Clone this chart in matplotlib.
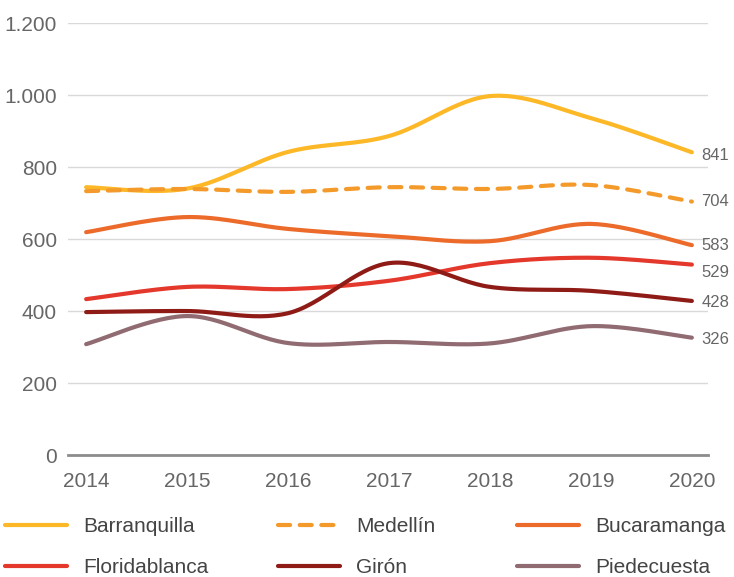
import numpy as np
import matplotlib
matplotlib.use("Agg")
import matplotlib.pyplot as plt
from matplotlib.lines import Line2D

years = [2014, 2015, 2016, 2017, 2018, 2019, 2020]
barranquilla = [744, 740, 842, 886, 997, 936, 841]
medellin = [733, 739, 731, 744, 739, 750, 704]
bucaramanga = [619, 661, 628, 608, 594, 642, 583]
floridablanca = [433, 467, 461, 484, 533, 548, 529]
giron = [397, 400, 394, 533, 467, 456, 428]
piedecuesta = [308, 386, 311, 314, 310, 358, 326]

names = ["Barranquilla", "Medellín", "Bucaramanga", "Floridablanca", "Girón", "Piedecuesta"]
series = [barranquilla, medellin, bucaramanga, floridablanca, giron, piedecuesta]
colors = ["#FDB827", "#F39A2B", "#EC6B2B", "#E3382B", "#8F1B17", "#916B72"]
styles = ["-", "--", "-", "-", "-", "-"]
label_dy = [-2, 0, 0, -6, -1, -1]  # points, end-label nudges

plt.rcParams['font.family'] = ['Liberation Sans', 'DejaVu Sans']
TXT = "#666666"


def smooth(x, y, n=30):
    # Catmull-Rom style cubic Bezier smoothing (display only)
    x = np.asarray(x, float); y = np.asarray(y, float)
    px = np.concatenate([[x[0]], x, [x[-1]]])
    py = np.concatenate([[y[0]], y, [y[-1]]])
    xs, ys = [], []
    t = np.linspace(0, 1, n)
    for i in range(1, len(px) - 2):
        p0 = np.array([px[i], py[i]]); p3 = np.array([px[i + 1], py[i + 1]])
        c1 = p0 + (np.array([px[i + 1], py[i + 1]]) - np.array([px[i - 1], py[i - 1]])) / 6
        c2 = p3 - (np.array([px[i + 2], py[i + 2]]) - np.array([px[i], py[i]])) / 6
        b = ((1 - t) ** 3)[:, None] * p0 + (3 * (1 - t) ** 2 * t)[:, None] * c1 + \
            (3 * (1 - t) * t ** 2)[:, None] * c2 + (t ** 3)[:, None] * p3
        xs.append(b[:, 0]); ys.append(b[:, 1])
    return np.concatenate(xs), np.concatenate(ys)


fig = plt.figure(figsize=(7.34, 5.77), dpi=100)
ax = fig.add_axes([0.0926, 0.2114, 0.872, 0.7487])

handles = []
for name, vals, c, ls, dy in zip(names, series, colors, styles, label_dy):
    sx, sy = smooth(years, vals)
    kw = dict(dashes=(2.9, 2.3)) if ls == "--" else {}
    ax.plot(sx, sy, color=c, lw=3, solid_capstyle='round', dash_capstyle='round', **kw)
    handles.append(Line2D([], [], color=c, lw=3, solid_capstyle='round',
                          dash_capstyle='round', **kw))
    ax.annotate(f"{vals[-1]}", xy=(years[-1], vals[-1]), xytext=(7, dy),
                textcoords='offset points', va='center', ha='left',
                fontsize=12, color=TXT, annotation_clip=False)

ax.set_xlim(2013.82, 2020.16)
ax.set_ylim(0, 1200)
ax.set_yticks(range(0, 1201, 200))
ax.set_yticklabels([f"{v:,}".replace(",", ".") for v in range(0, 1201, 200)])
ax.set_xticks(years)
ax.set_xticklabels([str(y) for y in years])
ax.tick_params(axis='both', length=0, labelsize=15, labelcolor=TXT)
ax.tick_params(axis='y', pad=8)
ax.tick_params(axis='x', pad=12)
ax.grid(axis='y', color='#d9d9d9', lw=1)
ax.set_axisbelow(True)
for s in ['top', 'right', 'left']:
    ax.spines[s].set_visible(False)
ax.spines['bottom'].set_color('#8c8c8c')
ax.spines['bottom'].set_linewidth(2)
ax.spines['bottom'].set_zorder(5)

# legend: three columns
col_x = [5 / 734, 278 / 734, 517 / 734]
for j in range(3):
    idx = [j, j + 3]
    fig.legend([handles[i] for i in idx], [names[i] for i in idx],
               loc='upper left', bbox_to_anchor=(col_x[j], 1 - 517 / 577),
               frameon=False, fontsize=15, labelcolor="#444444",
               handlelength=2.98, handletextpad=0.77, borderpad=0, borderaxespad=0,
               labelspacing=1.06)

fig.savefig("out.png", dpi=100)
